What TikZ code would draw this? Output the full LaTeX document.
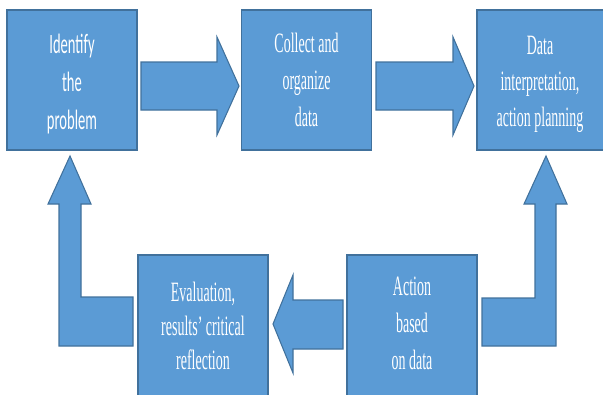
\documentclass[tikz,border=0pt]{standalone}
\usepackage{fontspec}
\setmainfont[FakeStretch=0.5]{Liberation Serif}
\newfontfamily\narrowsans[FakeStretch=0.52]{Carlito}
\definecolor{boxfill}{HTML}{5B9BD5}
\definecolor{boxline}{HTML}{41719C}
\begin{document}
\begin{tikzpicture}[x=0.75pt,y=-0.75pt,
  stepbox/.style={draw=boxline,line width=0.8pt,fill=boxfill,text=white,
    inner sep=0pt,align=center,minimum width=97.5pt,minimum height=105pt,
    font=\fontsize{21}{27.5}\selectfont},
  blockarrow/.style={draw=boxline,line width=0.8pt,fill=boxfill,line join=miter}]
\useasboundingbox (0,0) rectangle (603,394);
\node[stepbox,minimum height=105pt] (ident) at (72,80) {};
\node[text=white,align=center,font=\narrowsans\fontsize{21}{28.5}\selectfont] (identtxt) at (72,84) {Identify\\the\\problem};
\node[stepbox] (collect) at (306.5,80) {Collect and\\organize\\data};
\node[stepbox,minimum width=95.25pt] (interp) at (540.5,80) {};
\node[text=white,align=center,font=\fontsize{21}{27}\selectfont] (interptxt) at (540,84) {Data\\interpretation,\\action planning};
\node[stepbox,minimum height=105.75pt,font=\fontsize{21}{25.5}\selectfont] (eval) at (203,325.5) {Evaluation,\\results' critical\\reflection};
\node[stepbox,minimum height=105.75pt,font=\fontsize{21}{27.5}\selectfont] (action) at (412,325.5) {};
\node[text=white,align=center,font=\fontsize{21}{27.5}\selectfont] (actiontxt) at (412,323.5) {Action\\based\\on data};
% straight block arrows
\draw[blockarrow] (141,62) -- (217,62) -- (217,37) -- (239,86) -- (217,135) -- (217,110) -- (141,110) -- cycle;
\draw[blockarrow] (376,62) -- (453,62) -- (453,37) -- (474,86) -- (453,135) -- (453,110) -- (376,110) -- cycle;
\draw[blockarrow] (343,300) -- (293,300) -- (293,275) -- (273,324) -- (293,373) -- (293,349) -- (343,349) -- cycle;
% bent block arrows
\draw[blockarrow] (133,297) -- (81,297) -- (81,204) -- (91,204) -- (70,156) -- (48,204) -- (59,204) -- (59,346) -- (133,346) -- cycle;
\draw[blockarrow] (482,298) -- (535,298) -- (535,204) -- (524,204) -- (546,156) -- (567,204) -- (556,204) -- (556,346) -- (482,346) -- cycle;
\end{tikzpicture}
\end{document}
